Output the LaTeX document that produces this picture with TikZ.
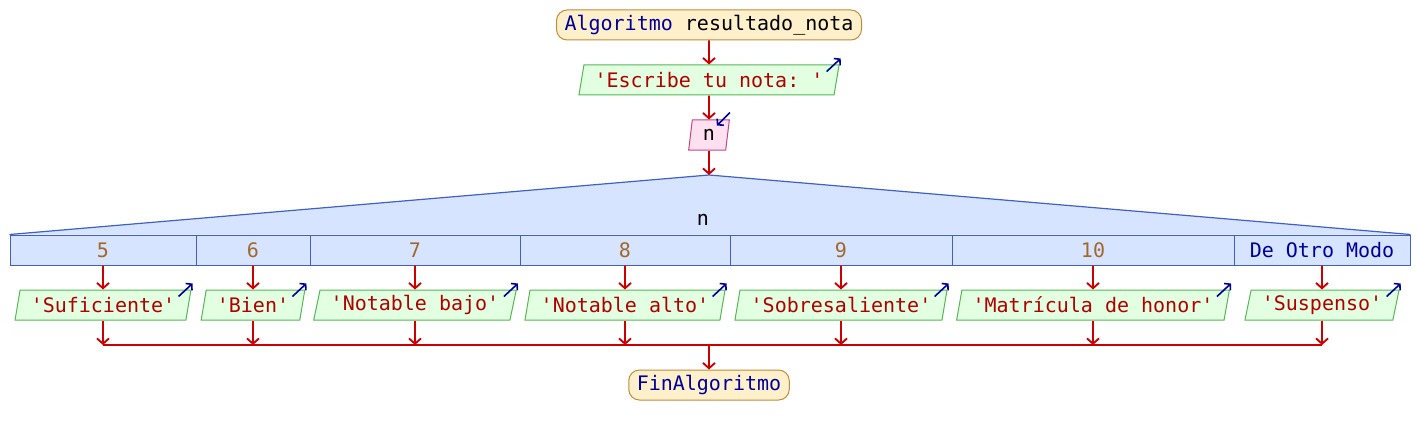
\documentclass[tikz,border=0pt]{standalone}
\usepackage{fontspec}
\setmonofont{DejaVu Sans Mono}
\usetikzlibrary{shapes.geometric,arrows.meta}
\definecolor{termfill}{HTML}{FFF0CC}
\definecolor{termdraw}{HTML}{C08A3A}
\definecolor{outfill}{HTML}{E2FFE2}
\definecolor{outdraw}{HTML}{55B855}
\definecolor{infill}{HTML}{FFE0F0}
\definecolor{indraw}{HTML}{C04880}
\definecolor{casefill}{HTML}{D6E4FF}
\definecolor{casedraw}{HTML}{4060C8}
\definecolor{flowred}{HTML}{CC0000}
\definecolor{strred}{HTML}{B00000}
\definecolor{kwblue}{HTML}{000099}
\definecolor{numbrown}{HTML}{A0692A}
\tikzset{
	termbox/.style={rectangle, rounded corners=8pt, draw=termdraw, fill=termfill, line width=0.75pt,
		minimum height=22.5pt, inner xsep=6pt, inner ysep=0pt},
	outbox/.style={trapezium, trapezium left angle=72, trapezium right angle=108, trapezium stretches body,
		draw=outdraw, fill=outfill, text=strred, line width=0.75pt, minimum height=22.5pt, inner xsep=8pt, inner ysep=0pt},
	inbox/.style={outbox, draw=indraw, fill=infill, text=black},
	casebox/.style={rectangle, draw=casedraw, fill=casefill, text=numbrown, line width=0.75pt,
		minimum height=22.5pt, inner sep=0pt},
	flow/.style={draw=flowred, line width=1.4pt, -{Straight Barb[length=4pt,width=9pt]}},
	flowline/.style={draw=flowred, line width=1.4pt},
	outicon/.style={draw=kwblue, line width=1.2pt, -{Straight Barb[length=3pt,width=7pt]}}
}
\begin{document}
\begin{tikzpicture}[x=0.75pt,y=-0.75pt,font=\ttfamily\fontsize{15}{18}\selectfont]
	\useasboundingbox (0,0) rectangle (1418,435);
	\node (start) at (709, 25)	[termbox]	{{\color{kwblue}Algoritmo} resultado\_nota};
	\node (out0) at (709, 80)	[outbox]	{'Escribe tu nota: '};
	\node (in0) at (709,135)	[inbox]	{n};
	\coordinate (apex) at (709,175);
	\node (c1) at ( 103,250)	[casebox, minimum width=139.5pt]	{5};
	\node (c2) at ( 253,250)	[casebox, minimum width=85.5pt]	{6};
	\node (c3) at ( 415,250)	[casebox, minimum width=157.5pt]	{7};
	\node (c4) at ( 625,250)	[casebox, minimum width=157.5pt]	{8};
	\node (c5) at ( 841,250)	[casebox, minimum width=166.5pt]	{9};
	\node (c6) at (1093,250)	[casebox, minimum width=211.5pt]	{10};
	\node (c7) at (1322,250)	[casebox, minimum width=132pt, text=kwblue]	{De Otro Modo};
	\fill[casefill] (c1.north west) -- (apex) -- (c7.north east) -- cycle;
	\draw[casedraw, line width=0.9pt] (c1.north west) -- (apex) -- (c7.north east);
	\node (sel) at (703,220)	{n};
	\node (o1) at ( 103,305)	[outbox]	{'Suficiente'};
	\node (o2) at ( 253,305)	[outbox]	{'Bien'};
	\node (o3) at ( 415,305)	[outbox]	{'Notable bajo'};
	\node (o4) at ( 625,305)	[outbox]	{'Notable alto'};
	\node (o5) at ( 841,305)	[outbox]	{'Sobresaliente'};
	\node (o6) at (1093,305)	[outbox]	{'Matrícula de honor'};
	\node (o7) at (1322,305)	[outbox]	{'Suspenso'};
	\coordinate (m1) at ( 103,345);
	\coordinate (m2) at ( 253,345);
	\coordinate (m3) at ( 415,345);
	\coordinate (m4) at ( 625,345);
	\coordinate (m5) at ( 841,345);
	\coordinate (m6) at (1093,345);
	\coordinate (m7) at (1322,345);
	\coordinate (mc) at ( 709,345);
	\node (end) at (709,385)	[termbox, text=kwblue]	{FinAlgoritmo};
	\draw[flow] (start) -- (out0);
	\draw[flow] (out0) -- (in0);
	\draw[flow] (in0) -- (apex);
	\draw[flow] (c1) -- (o1);
	\draw[flow] (c2) -- (o2);
	\draw[flow] (c3) -- (o3);
	\draw[flow] (c4) -- (o4);
	\draw[flow] (c5) -- (o5);
	\draw[flow] (c6) -- (o6);
	\draw[flow] (c7) -- (o7);
	\draw[flow] (o1) -- (m1);
	\draw[flow] (o2) -- (m2);
	\draw[flow] (o3) -- (m3);
	\draw[flow] (o4) -- (m4);
	\draw[flow] (o5) -- (m5);
	\draw[flow] (o6) -- (m6);
	\draw[flow] (o7) -- (m7);
	\draw[flowline] (m1) -- (m7);
	\draw[flow] (mc) -- (end);
	\draw[outicon] ([shift={(-13,7)}]out0.top right corner) -- ([shift={(1,-6)}]out0.top right corner);
	\draw[outicon] ([shift={(0,-7)}]in0.top right corner) -- ([shift={(-13,6)}]in0.top right corner);
	\draw[outicon] ([shift={(-13,7)}]o1.top right corner) -- ([shift={(1,-6)}]o1.top right corner);
	\draw[outicon] ([shift={(-13,7)}]o2.top right corner) -- ([shift={(1,-6)}]o2.top right corner);
	\draw[outicon] ([shift={(-13,7)}]o3.top right corner) -- ([shift={(1,-6)}]o3.top right corner);
	\draw[outicon] ([shift={(-13,7)}]o4.top right corner) -- ([shift={(1,-6)}]o4.top right corner);
	\draw[outicon] ([shift={(-13,7)}]o5.top right corner) -- ([shift={(1,-6)}]o5.top right corner);
	\draw[outicon] ([shift={(-13,7)}]o6.top right corner) -- ([shift={(1,-6)}]o6.top right corner);
	\draw[outicon] ([shift={(-13,7)}]o7.top right corner) -- ([shift={(1,-6)}]o7.top right corner);
\end{tikzpicture}
\end{document}
